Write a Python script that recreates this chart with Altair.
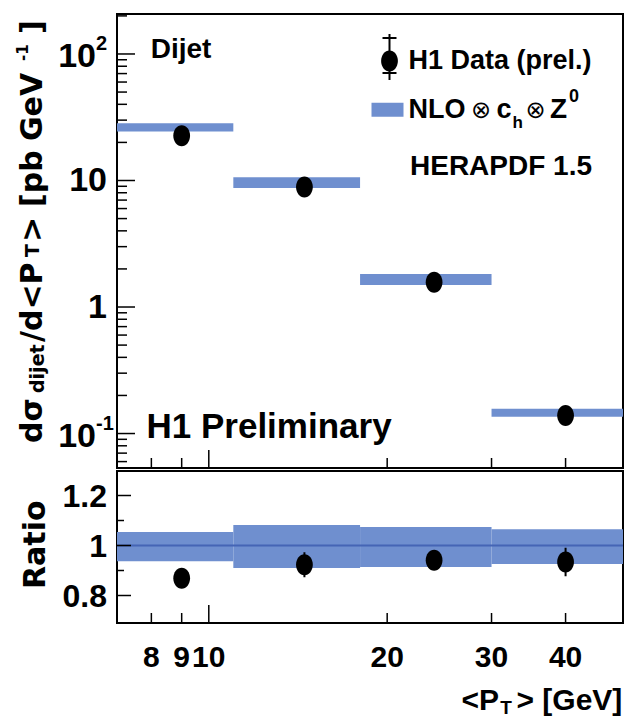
import altair as alt
import pandas as pd

# ---------------- data ----------------
pt_lo = [7, 11, 18, 30]
pt_hi = [11, 18, 30, 50]
pt_center = [9, 14.5, 24, 40]

data_xsec = [22.6, 8.87, 1.57, 0.139]
theory_lo = [24.4, 8.71, 1.49, 0.1355]
theory_hi = [28.4, 10.6, 1.82, 0.157]

ratio_val = [0.869, 0.923, 0.941, 0.934]
ratio_err = [0.02, 0.05, 0.036, 0.057]
band_lo = [0.937, 0.91, 0.914, 0.926]
band_hi = [1.054, 1.082, 1.074, 1.065]

x_tick_major = [10]
x_tick_minor = [8, 9, 20, 30, 40]
x_label_val = [8, 9, 10, 20, 30, 40]
x_label_txt = ["8", "9", "10", "20", "30", "40"]

y_top_major = [0.1, 1, 10, 100]
y_top_minor = [0.06, 0.07, 0.08, 0.09,
               0.2, 0.3, 0.4, 0.5, 0.6, 0.7, 0.8, 0.9,
               2, 3, 4, 5, 6, 7, 8, 9,
               20, 30, 40, 50, 60, 70, 80, 90, 200]
y_top_plain_val = [10, 1]
y_top_plain_txt = ["10", "1"]
y_top_exp_val = [100, 0.1]
y_top_exp_base = ["10", "10"]
y_top_exp_sup = ["2", "-1"]

y_ratio_major = [0.8, 1.0, 1.2]
y_ratio_minor = [0.9, 1.1]
y_ratio_txt = ["0.8", "1", "1.2"]

# ---------------- style ----------------
BLUE = "#6f8fcf"
LINE = "#4565b5"
FONT = "Liberation Sans"
VFONT = "DejaVu Sans"
ELLIPSE = "M0,-1 A0.8,1 0 1,1 0,1 A0.8,1 0 1,1 0,-1 Z"

W = 506
HT = 454
HR = 152

xs = alt.Scale(type="log", domain=[7, 50], nice=False)
ys_top = alt.Scale(type="log", domain=[0.0534, 207], nice=False)
ys_rat = alt.Scale(domain=[0.69, 1.298], nice=False, zero=False)

bins = pd.DataFrame({
    "lo": pt_lo, "hi": pt_hi, "c": pt_center,
    "d": data_xsec, "tlo": theory_lo, "thi": theory_hi,
    "r": ratio_val, "re": ratio_err, "blo": band_lo, "bhi": band_hi,
})
bins["rlo"] = bins["r"] - bins["re"]
bins["rhi"] = bins["r"] + bins["re"]


def txt(s, x, y, size, font=FONT, angle=0, align="left", baseline="alphabetic",
        weight="bold"):
    return alt.Chart(pd.DataFrame({"t": [s]})).mark_text(
        font=font, fontSize=size, fontWeight=weight, color="black",
        angle=angle, align=align, baseline=baseline,
    ).encode(text="t:N", x=alt.value(x), y=alt.value(y))


def yrules(vals, scale, length, width=1.5):
    return alt.Chart(pd.DataFrame({"v": vals})).mark_rule(
        color="black", strokeWidth=width
    ).encode(y=alt.Y("v:Q", scale=scale, axis=None),
             x=alt.value(0), x2=alt.value(length))


def xrules(vals, h, length, width=1.5):
    return alt.Chart(pd.DataFrame({"v": vals})).mark_rule(
        color="black", strokeWidth=width
    ).encode(x=alt.X("v:Q", scale=xs, axis=None),
             y=alt.value(h), y2=alt.value(h - length))


one = pd.DataFrame({"k": [0]})

# ---------------- top panel ----------------
top_band = alt.Chart(bins).mark_rect(color=BLUE).encode(
    x=alt.X("lo:Q", scale=xs, axis=None), x2="hi:Q",
    y=alt.Y("tlo:Q", scale=ys_top, axis=None), y2="thi:Q",
)
top_dots = alt.Chart(bins).mark_point(
    shape=ELLIPSE, filled=True, size=440, color="black", opacity=1, strokeWidth=0
).encode(
    x=alt.X("c:Q", scale=xs, axis=None),
    y=alt.Y("d:Q", scale=ys_top, axis=None),
)

lab_plain = alt.Chart(pd.DataFrame({"v": y_top_plain_val, "t": y_top_plain_txt})).mark_text(
    font=FONT, fontSize=34, fontWeight="bold", align="right", baseline="middle", dy=1
).encode(y=alt.Y("v:Q", scale=ys_top, axis=None), x=alt.value(-10), text="t:N")
exp_df = pd.DataFrame({"v": y_top_exp_val, "b": y_top_exp_base, "s": y_top_exp_sup})
lab_exp_base = alt.Chart(exp_df).mark_text(
    font=FONT, fontSize=34, fontWeight="bold", align="right", baseline="middle", dy=3
).encode(y=alt.Y("v:Q", scale=ys_top, axis=None), x=alt.value(-21), text="b:N")
lab_exp_sup = alt.Chart(exp_df).mark_text(
    font=FONT, fontSize=20, fontWeight="bold", align="left", baseline="middle", dy=-10
).encode(y=alt.Y("v:Q", scale=ys_top, axis=None), x=alt.value(-21), text="s:N")

leg_bar = alt.Chart(one).mark_rule(color="black", strokeWidth=2).encode(
    x=alt.value(272.5), y=alt.value(20), y2=alt.value(66))
leg_cap1 = alt.Chart(one).mark_rule(color="black", strokeWidth=2).encode(
    x=alt.value(265.5), x2=alt.value(279.5), y=alt.value(24))
leg_cap2 = alt.Chart(one).mark_rule(color="black", strokeWidth=2).encode(
    x=alt.value(265.5), x2=alt.value(279.5), y=alt.value(59))
leg_dot = alt.Chart(one).mark_point(
    shape=ELLIPSE, filled=True, size=440, color="black", opacity=1, strokeWidth=0
).encode(x=alt.value(272.5), y=alt.value(47))
leg_rect = alt.Chart(one).mark_rect(color=BLUE).encode(
    x=alt.value(254.5), x2=alt.value(286.5), y=alt.value(88.7), y2=alt.value(102.7))

top_texts = [
    txt("Dijet", 33.7, 44.3, 28),
    txt("H1 Data (prel.)", 291.5, 54.5, 27),
    txt("NLO", 291.5, 104.3, 27),
    txt("\u2297", 354, 103.5, 24, font=VFONT, weight="normal"),
    txt("c", 379.5, 104.3, 27),
    txt("h", 395.5, 114, 17),
    txt("\u2297", 408.5, 103.5, 24, font=VFONT, weight="normal"),
    txt("Z", 433, 104.3, 28),
    txt("0", 452, 88, 18),
    txt("HERAPDF 1.5", 293, 161, 28),
    txt("H1 Preliminary", 29.5, 424, 35),
    # rotated y title pieces
    txt("d\u03c3", -75.5, 429, 30, font=VFONT, angle=270),
    txt("dijet", -73.5, 379, 19, font=VFONT, angle=270),
    txt("/d<P", -75.5, 328, 30, font=VFONT, angle=270),
    txt("T", -78.5, 243, 19, font=VFONT, angle=270),
    txt(">", -75.5, 228, 30, font=VFONT, angle=270),
    txt("[pb", -75.5, 193, 30, font=VFONT, angle=270),
    txt("GeV", -75.5, 127, 30, font=VFONT, angle=270),
    txt("-1", -89.5, 47, 15, font=VFONT, angle=270),
    txt("]", -75.5, 20, 30, font=VFONT, angle=270),
]

top = alt.layer(
    top_band, top_dots,
    yrules(y_top_major, ys_top, 18), yrules(y_top_minor, ys_top, 10),
    xrules(x_tick_major, HT, 18), xrules(x_tick_minor, HT, 10),
    lab_plain, lab_exp_base, lab_exp_sup,
    leg_bar, leg_cap1, leg_cap2, leg_dot, leg_rect,
    *top_texts,
).properties(width=W, height=HT)

# ---------------- ratio panel ----------------
rat_band = alt.Chart(bins).mark_rect(color=BLUE).encode(
    x=alt.X("lo:Q", scale=xs, axis=None), x2="hi:Q",
    y=alt.Y("blo:Q", scale=ys_rat, axis=None), y2="bhi:Q",
)
rat_line = alt.Chart(pd.DataFrame({"v": [1.0]})).mark_rule(
    color=LINE, strokeWidth=2
).encode(y=alt.Y("v:Q", scale=ys_rat, axis=None), x=alt.value(0), x2=alt.value(W))
rat_err = alt.Chart(bins).mark_rule(color="black", strokeWidth=2).encode(
    x=alt.X("c:Q", scale=xs, axis=None),
    y=alt.Y("rlo:Q", scale=ys_rat, axis=None), y2="rhi:Q",
)
rat_dots = alt.Chart(bins).mark_point(
    shape=ELLIPSE, filled=True, size=440, color="black", opacity=1, strokeWidth=0
).encode(
    x=alt.X("c:Q", scale=xs, axis=None),
    y=alt.Y("r:Q", scale=ys_rat, axis=None),
)
rat_ylab = alt.Chart(pd.DataFrame({"v": y_ratio_major, "t": y_ratio_txt})).mark_text(
    font=FONT, fontSize=32, fontWeight="bold", align="right", baseline="middle", dy=1
).encode(y=alt.Y("v:Q", scale=ys_rat, axis=None), x=alt.value(-10), text="t:N")
rat_xlab = alt.Chart(pd.DataFrame({"v": x_label_val, "t": x_label_txt})).mark_text(
    font=FONT, fontSize=30, fontWeight="bold", align="center", baseline="top"
).encode(x=alt.X("v:Q", scale=xs, axis=None), y=alt.value(HR + 20), text="t:N")

rat_texts = [
    txt("Ratio", -71.8, 73.7, 30, font=VFONT, angle=270, align="center"),
    txt("<P", 344.5, 238.7, 30),
    txt("T", 383.2, 243, 19),
    txt("> [GeV]", 399.5, 238.7, 30),
]

ratio = alt.layer(
    rat_band, rat_line, rat_err, rat_dots,
    yrules(y_ratio_major, ys_rat, 14), yrules(y_ratio_minor, ys_rat, 7),
    xrules(x_tick_major, HR, 18), xrules(x_tick_minor, HR, 10),
    rat_ylab, rat_xlab,
    *rat_texts,
).properties(width=W, height=HR)

chart = alt.vconcat(top, ratio, spacing=0).properties(
    padding={"left": 14, "top": 13, "right": 3, "bottom": 0},
    background="white",
).configure_view(stroke="black", strokeWidth=2)

chart.save("out.html", embed_options={"renderer": "svg", "actions": False})
